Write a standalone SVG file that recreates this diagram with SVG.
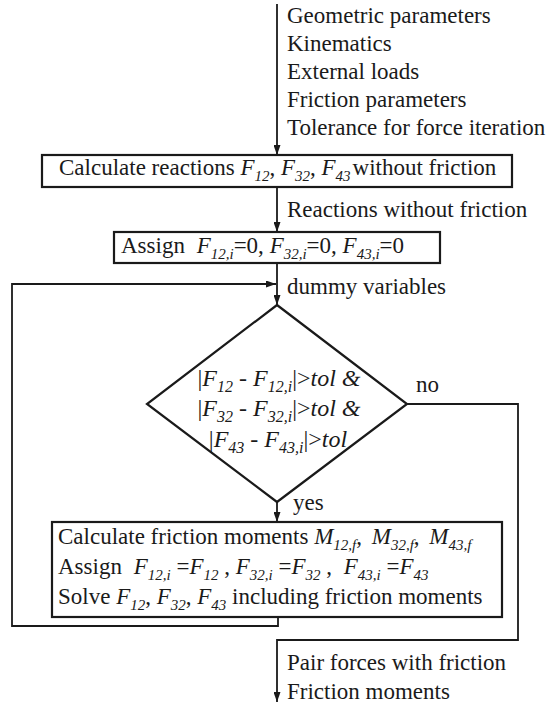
<svg xmlns="http://www.w3.org/2000/svg" width="558" height="705" viewBox="0 0 558 705">
<style>
text{font-family:"Liberation Serif","Times New Roman",serif;font-size:23px;fill:#1a1a1a}
.i{font-style:italic}
.s{font-size:15px;font-style:italic}
.d{font-size:24px}
.d .s{font-size:16px}
.box{fill:#fff;stroke:#1a1a1a;stroke-width:2.2}
.c{fill:none;stroke:#1a1a1a;stroke-width:1.8}
</style>
<defs>
<marker id="a" markerWidth="10" markerHeight="7" refX="10" refY="3.5" orient="auto" markerUnits="userSpaceOnUse"><path d="M0,0 L10,3.5 L0,7 z" fill="#1a1a1a"/></marker>
</defs>
<g id="connectors">
<path class="c" d="M277,4 V155" marker-end="url(#a)"/>
<path class="c" d="M277,187 V232" marker-end="url(#a)"/>
<path class="c" d="M277,263 V305" marker-end="url(#a)"/>
<path class="c" d="M278,617 V626 H12 V284 H276" marker-end="url(#a)"/>
<path class="c" d="M277,502 V522" marker-end="url(#a)"/>
<path class="c" d="M407,404 H518 V640 H277 V702" marker-end="url(#a)"/>
</g>
<g id="labels">
<text x="287" y="23">Geometric parameters</text>
<text x="287" y="51">Kinematics</text>
<text x="287" y="79">External loads</text>
<text x="287" y="107">Friction parameters</text>
<text x="287" y="135">Tolerance for force iteration</text>
<text x="287" y="217">Reactions without friction</text>
<text x="287" y="294">dummy variables</text>
<text x="416" y="392">no</text>
<text x="293" y="510">yes</text>
<text x="287" y="670">Pair forces with friction</text>
<text x="287" y="699">Friction moments</text>
</g>
<g id="calc-reactions">
<rect class="box" x="42" y="155" width="470" height="32"/>
<text x="59" y="175">Calculate reactions <tspan class="i">F</tspan><tspan class="s" dy="6">12</tspan><tspan dy="-6">, </tspan><tspan class="i">F</tspan><tspan class="s" dy="6">32</tspan><tspan dy="-6">, </tspan><tspan class="i">F</tspan><tspan class="s" dy="6">43</tspan><tspan dy="-6" dx="2">without friction</tspan></text>
</g>
<g id="assign-zero">
<rect class="box" x="114" y="232" width="326" height="31"/>
<text x="121" y="253">Assign <tspan class="i" dx="6">F</tspan><tspan class="s" dy="6">12,i</tspan><tspan dy="-6">=0, </tspan><tspan class="i">F</tspan><tspan class="s" dy="6">32,i</tspan><tspan dy="-6">=0, </tspan><tspan class="i">F</tspan><tspan class="s" dy="6">43,i</tspan><tspan dy="-6">=0</tspan></text>
</g>
<g id="decision">
<polygon class="box" points="277,305 407,404 277,502 147,404"/>
<text class="d" x="279" y="386" text-anchor="middle">|<tspan class="i">F</tspan><tspan class="s" dy="6">12</tspan><tspan dy="-6"> - </tspan><tspan class="i">F</tspan><tspan class="s" dy="6">12,i</tspan><tspan dy="-6">|&gt;</tspan><tspan class="i">tol &amp;</tspan></text>
<text class="d" x="279" y="416" text-anchor="middle">|<tspan class="i">F</tspan><tspan class="s" dy="6">32</tspan><tspan dy="-6"> - </tspan><tspan class="i">F</tspan><tspan class="s" dy="6">32,i</tspan><tspan dy="-6">|&gt;</tspan><tspan class="i">tol &amp;</tspan></text>
<text class="d" x="278" y="447" text-anchor="middle">|<tspan class="i">F</tspan><tspan class="s" dy="6">43</tspan><tspan dy="-6"> - </tspan><tspan class="i">F</tspan><tspan class="s" dy="6">43,i</tspan><tspan dy="-6">|&gt;</tspan><tspan class="i">tol</tspan></text>
</g>
<g id="friction-loop">
<rect class="box" x="52" y="522" width="450" height="95"/>
<text x="58" y="544">Calculate friction moments <tspan class="i">M</tspan><tspan class="s" dy="6">12,f</tspan><tspan dy="-6">, </tspan><tspan class="i" dx="4">M</tspan><tspan class="s" dy="6">32,f</tspan><tspan dy="-6">, </tspan><tspan class="i" dx="4">M</tspan><tspan class="s" dy="6">43,f</tspan></text>
<text x="58" y="574">Assign <tspan class="i" dx="6">F</tspan><tspan class="s" dy="6">12,i</tspan><tspan dy="-6"> =</tspan><tspan class="i">F</tspan><tspan class="s" dy="6">12</tspan><tspan dy="-6"> , </tspan><tspan class="i">F</tspan><tspan class="s" dy="6">32,i</tspan><tspan dy="-6"> =</tspan><tspan class="i">F</tspan><tspan class="s" dy="6">32</tspan><tspan dy="-6"> , </tspan><tspan class="i" dx="6">F</tspan><tspan class="s" dy="6">43,i</tspan><tspan dy="-6"> =</tspan><tspan class="i">F</tspan><tspan class="s" dy="6">43</tspan></text>
<text x="58" y="604">Solve <tspan class="i">F</tspan><tspan class="s" dy="6">12</tspan><tspan dy="-6">, </tspan><tspan class="i">F</tspan><tspan class="s" dy="6">32</tspan><tspan dy="-6">, </tspan><tspan class="i">F</tspan><tspan class="s" dy="6">43</tspan><tspan dy="-6"> including friction moments</tspan></text>
</g>
</svg>
